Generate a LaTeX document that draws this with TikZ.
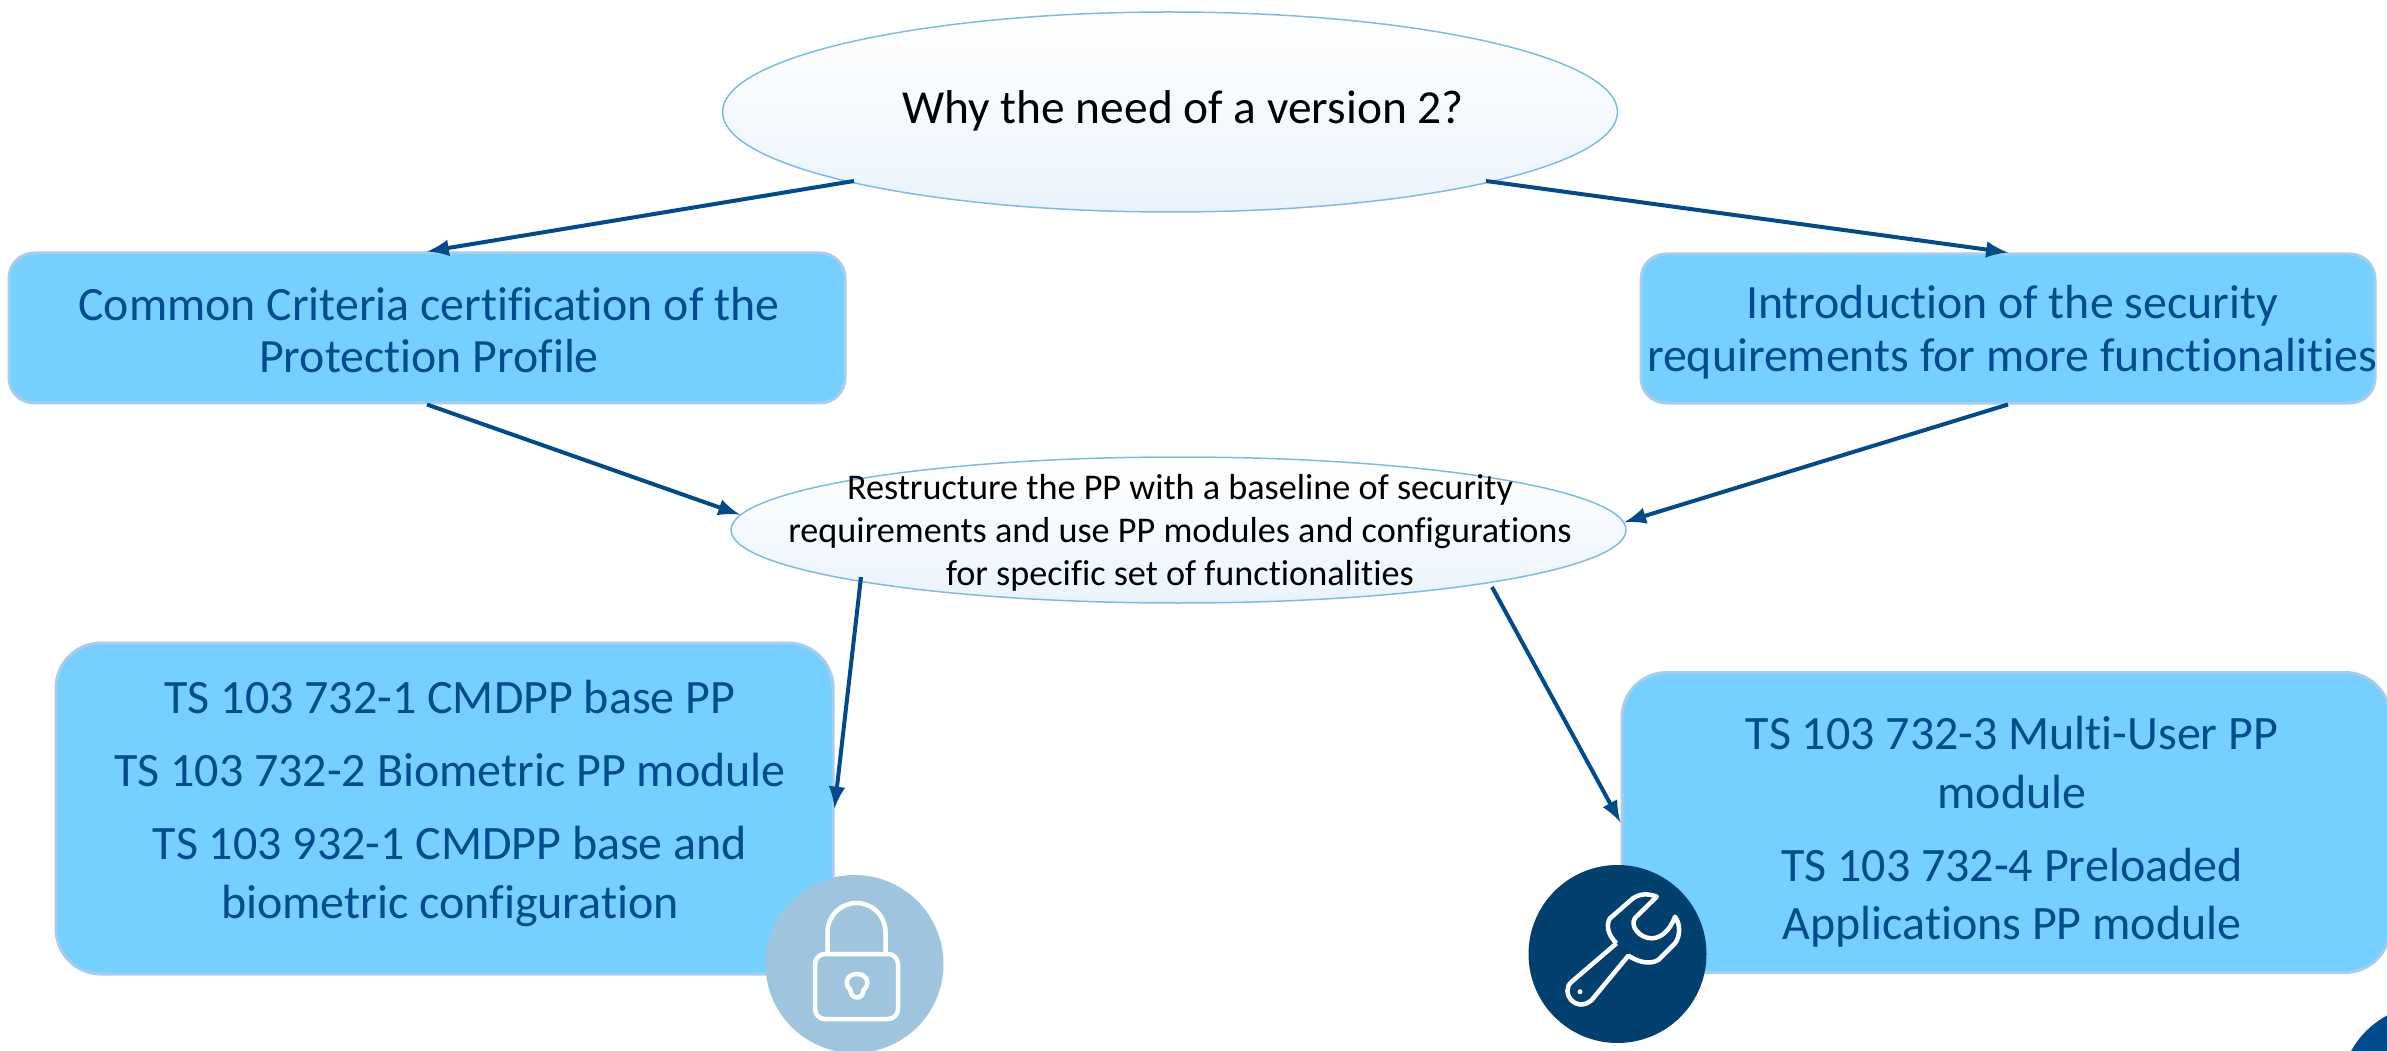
\documentclass[tikz,border=0pt]{standalone}
\usepackage{xcolor}
\usepackage{fontspec}
\setmainfont[Ligatures=NoCommon]{Carlito}
\usepackage{tikz}
\usetikzlibrary{shapes,arrows}
\definecolor{clBox}{HTML}{75CFFF}
\definecolor{clBoxLine}{HTML}{A5CDEE}
\definecolor{clOval}{HTML}{7FB8F0}
\definecolor{clOvalLow}{HTML}{EAF3FC}
\definecolor{clDark}{HTML}{004B8C}
\definecolor{clLock}{HTML}{9FC5DE}
\definecolor{clTool}{HTML}{02406F}
\tikzstyle{tsBoxText} = [ 
    text=clDark, 
    align=center,
    font=\fontsize{13.6}{15}\selectfont
]
\tikzstyle{tsLowText} = [ 
    tsBoxText, 
    font=\fontsize{13.65}{16.7}\selectfont
]
\tikzstyle{tsBox} = [ 
    rectangle,
    draw=clBoxLine,
    fill=clBox,
    rounded corners=0.25cm,
    line width=0.3mm]
\tikzstyle{tsLowBox} = [ 
    tsBox,
    rounded corners=0.45cm]
\tikzstyle{tsOval} = [ 
    ellipse,
    draw=clOval,
    top color=white,
    bottom color=clOvalLow,
    inner sep=0pt,
    line width=0.15mm]
\tikzstyle{tsBadge} = [ 
    circle,
    inner sep=0pt,
    minimum size=1.78cm]
\tikzstyle{tsIcon} = [ 
    draw=white,
    line width=0.45mm,
    line join=round]
\tikzstyle{tsArrow} = [ 
    -latex,
    draw=clDark,
    line width=0.4mm]

\begin{document}
\begin{tikzpicture}

	\useasboundingbox (0,0) rectangle (23.87,10.5);
	\clip (0,0) rectangle (23.87,10.5);

	% ovals
	\node[tsOval, minimum width=8.95cm, minimum height=2cm] (why) at (11.70,9.38) { };
	\node[tsOval, minimum width=8.95cm, minimum height=1.46cm] (restructure) at (11.785,5.20) { };

	% boxes
	\node[tsBox, minimum width=8.36cm, minimum height=1.5cm] (cert) at (4.27,7.22) { };
	\node[tsBox, minimum width=7.34cm, minimum height=1.49cm] (func) at (20.08,7.215) { };
	\node[tsLowBox, minimum width=7.77cm, minimum height=3.31cm] (baseBox) at (4.445,2.415) { };
	\node[tsLowBox, minimum width=7.68cm, minimum height=3.0cm] (moduleBox) at (20.06,2.275) { };

	% labels
	\node at (11.83,9.39) [font=\fontsize{13.5}{15}\selectfont, text=black] (whyText) {Why the need of a version 2?};
	\node at (4.29,7.20) [tsBoxText] (certText) {Common Criteria certification of the\\Protection Profile};
	\node at (20.12,7.18) [tsBoxText] (funcText) {Introduction of the security\\requirements for more functionalities};
	\node at (11.80,5.17) [align=center, text=black, font=\fontsize{10.3}{12.3}\selectfont] (restructureText) {Restructure the PP with a baseline of security\\requirements and use PP modules and configurations\\for specific set of functionalities};
	\node at (4.50,2.465) [tsLowText] (baseText) {TS 103 732-1 CMDPP base PP\\[4pt]TS 103 732-2 Biometric PP module\\[4pt]TS 103 932-1 CMDPP base and\\biometric configuration};
	\node at (20.12,2.18) [tsLowText] (moduleText) {TS 103 732-3 Multi-User PP\\module\\[4pt]TS 103 732-4 Preloaded\\Applications PP module};

	% connectors
	\coordinate (whyLeft) at (8.54,8.69);
	\coordinate (whyRight) at (14.86,8.69);
	\coordinate (baseStart) at (8.61,4.73);
	\coordinate (moduleStart) at (14.92,4.63);
	\draw[tsArrow] (whyLeft) -- (cert.north);
	\draw[tsArrow] (whyRight) -- (func.north);
	\draw[tsArrow] (cert.south) -- (restructure.178.6);
	\draw[tsArrow] (func.south) -- (restructure.1.4);
	\draw[tsArrow] (baseStart) -- (baseBox.east);
	\draw[tsArrow] (moduleStart) -- (moduleBox.west);

	% lock
	\node[tsBadge, fill=clLock] (lock) at (8.545,0.86) { };
	\begin{scope}[shift={(lock.center)}]
		\draw[tsIcon, rounded corners=0.1cm] (-0.395,0.10) rectangle (0.435,-0.55);
		\draw[tsIcon] (-0.27,0.10) -- (-0.27,0.32) arc (180:0:0.29) -- (0.31,0.10);
		\draw[tsIcon] (-0.04,-0.26) .. controls (-0.11,-0.20) and (-0.08,-0.10) .. (0.025,-0.10) .. controls (0.13,-0.10) and (0.16,-0.20) .. (0.09,-0.26) .. controls (0.09,-0.36) and (-0.04,-0.36) .. cycle;
	\end{scope}

	% wrench
	\node[tsBadge, fill=clTool] (tool) at (16.175,0.96) { };
	\begin{scope}[shift={(tool.center)}]
		\draw[tsIcon] (-0.01,0.107) -- (-0.458,-0.277) .. controls (-0.58,-0.38) and (-0.42,-0.60) .. (-0.258,-0.46) -- (0.108,-0.017) .. controls (0.18,-0.06) and (0.30,-0.12) .. (0.408,-0.06) -- (0.575,0.107) .. controls (0.63,0.18) and (0.63,0.30) .. (0.575,0.373) .. controls (0.52,0.22) and (0.42,0.157) .. (0.342,0.157) .. controls (0.22,0.157) and (0.12,0.28) .. (0.175,0.36) -- (0.392,0.573) .. controls (0.30,0.61) and (0.22,0.60) .. (0.158,0.56) -- (-0.075,0.357) .. controls (-0.11,0.31) and (-0.11,0.20) .. (-0.01,0.107);
		\fill[white] (-0.375,-0.377) circle (0.025);
	\end{scope}

	% page badge
	\node[tsBadge, fill=clDark] (page) at (24.29,-0.44) { };

\end{tikzpicture}
\end{document}
